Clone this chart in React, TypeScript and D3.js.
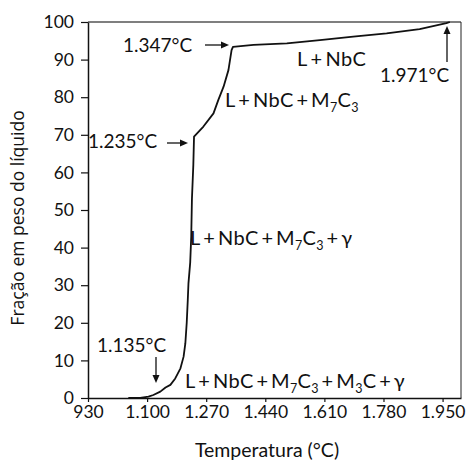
import React, { useEffect, useRef } from 'react';
import * as d3 from 'd3';

// temperature (°C) vs liquid weight fraction (%)
const temps = [1046, 1080, 1104, 1118, 1138, 1153, 1167, 1181, 1196, 1205, 1210, 1214, 1217, 1219, 1224, 1227, 1229, 1233, 1235, 1262, 1291, 1305, 1320, 1334, 1343, 1347, 1406, 1502, 1597, 1693, 1789, 1884, 1961, 1971];
const fractions = [0, 0.05, 0.35, 0.8, 1.7, 2.8, 3.5, 5.2, 7.9, 11, 14.5, 20, 26, 30.5, 36, 43, 53, 62, 69.5, 72.2, 75.7, 79.3, 82.8, 87.2, 92.5, 93.4, 93.9, 94.3, 95.2, 96.1, 97, 98.1, 99.7, 100];

const xTicks = [930, 1100, 1270, 1440, 1610, 1780, 1950];
const yTicks = [0, 10, 20, 30, 40, 50, 60, 70, 80, 90, 100];

const fmtTemp = (v: number) => v >= 1000 ? d3.format(',')(v).replace(',', '.') : String(v);

const W = 471;
const H = 462;
const margin = { top: 22, right: 10, bottom: 64, left: 88 };

const P = '\u2009+\u2009';

function App() {
  const ref = useRef<SVGSVGElement>(null);

  useEffect(() => {
    const root = d3.select(ref.current);
    root.selectAll('*').remove();

    const width = W - margin.left - margin.right;
    const height = H - margin.top - margin.bottom;

    const x = d3.scaleLinear().domain([930, 2003]).range([0, width]);
    const y = d3.scaleLinear().domain([0, 100]).range([height, 0]);

    const g = root.append('g').attr('transform', `translate(${margin.left},${margin.top})`);

    // frame top and right
    g.append('line').attr('x1', 0).attr('x2', width).attr('y1', 0).attr('y2', 0)
      .attr('stroke', '#555').attr('stroke-width', 1.6);
    g.append('line').attr('x1', width).attr('x2', width).attr('y1', 0).attr('y2', height)
      .attr('stroke', '#222').attr('stroke-width', 1);

    const font = 'Lato, sans-serif';

    const xAxis = g.append('g').attr('transform', `translate(0,${height})`)
      .call(d3.axisBottom(x).tickValues(xTicks).tickFormat(d => fmtTemp(+d)).tickSize(4).tickPadding(4).tickSizeOuter(0));
    const yAxis = g.append('g')
      .call(d3.axisLeft(y).tickValues(yTicks).tickSize(7).tickPadding(7).tickSizeOuter(0));
    [xAxis, yAxis].forEach(a => {
      a.select('.domain').attr('stroke', '#111').attr('stroke-width', 1.5);
      a.selectAll('.tick line').attr('stroke', '#111').attr('stroke-width', 1.2);
      a.selectAll('.tick text').attr('fill', '#111').style('font-family', font).style('font-size', '17.5px');
    });

    const pts = temps.map((t, i) => [t, fractions[i]] as [number, number]);
    const line = d3.line<[number, number]>().x(d => x(d[0])).y(d => y(d[1]));
    g.append('path').datum(pts).attr('d', line).attr('fill', 'none')
      .attr('stroke', '#111').attr('stroke-width', 1.8).attr('stroke-linejoin', 'round');

    // axis titles
    root.append('text').attr('x', 267).attr('y', 457).attr('text-anchor', 'middle')
      .style('font-family', font).style('font-size', '19.5px').attr('fill', '#111')
      .text('Temperatura (°C)');
    root.append('text').attr('transform', `translate(24,218) rotate(-90)`)
      .attr('text-anchor', 'middle').style('font-family', '"Open Sans", sans-serif').style('font-size', '17.5px')
      .attr('fill', '#111').text('Fração em peso do líquido');

    const ann = (px: number, py: number, parts: [string, boolean][], size = 19, ls = 0) => {
      const t = root.append('text').attr('x', px).attr('y', py)
        .style('font-family', font).style('font-size', `${size}px`).style('letter-spacing', `${ls}px`).attr('fill', '#111');
      let inSub = false;
      parts.forEach(([s, sub]) => {
        const dy = sub === inSub ? 0 : sub ? 5 : -5;
        t.append('tspan').attr('dy', dy).style('font-size', sub ? '12.5px' : `${size}px`).text(s);
        inSub = sub;
      });
    };

    const arrowH = (x1: number, x2: number, yy: number) => {
      root.append('line').attr('x1', x1).attr('x2', x2 - 6).attr('y1', yy).attr('y2', yy)
        .attr('stroke', '#111').attr('stroke-width', 1.3);
      root.append('path').attr('d', `M${x2},${yy} L${x2 - 8},${yy - 3.5} L${x2 - 8},${yy + 3.5} Z`).attr('fill', '#111');
    };
    const arrowV = (xx: number, y1: number, y2: number) => {
      const dir = y2 > y1 ? 1 : -1;
      root.append('line').attr('x1', xx).attr('x2', xx).attr('y1', y1).attr('y2', y2 - dir * 6)
        .attr('stroke', '#111').attr('stroke-width', 1.3);
      root.append('path').attr('d', `M${xx},${y2} L${xx - 3.5},${y2 - dir * 8} L${xx + 3.5},${y2 - dir * 8} Z`).attr('fill', '#111');
    };

    ann(123, 52, [['1.347°C', false]]);
    arrowH(205, 229, 45);
    ann(297, 66, [[`L${P}NbC`, false]], 20, 0.4);
    ann(380, 82, [['1.971°C', false]]);
    arrowV(447, 62, 26);
    ann(225, 107, [[`L${P}NbC${P}M`, false], ['7', true], ['C', false], ['3', true]], 20, 0.3);
    ann(88, 148, [['1.235°C', false]]);
    arrowH(167, 188, 143);
    ann(190, 245, [[`L${P}NbC${P}M`, false], ['7', true], ['C', false], ['3', true], [`${P}γ`, false]], 20, 0.3);
    ann(97, 352, [['1.135°C', false]]);
    arrowV(156, 357, 383);
    ann(185, 388, [[`L${P}NbC${P}M`, false], ['7', true], ['C', false], ['3', true], [`${P}M`, false], ['3', true], [`C${P}γ`, false]], 20, 0.3);
  }, []);

  return (
    <svg ref={ref} width={W} height={H} style={{ position: 'absolute', left: 0, top: 0, background: '#fff' }} />
  );
}

export default App;
